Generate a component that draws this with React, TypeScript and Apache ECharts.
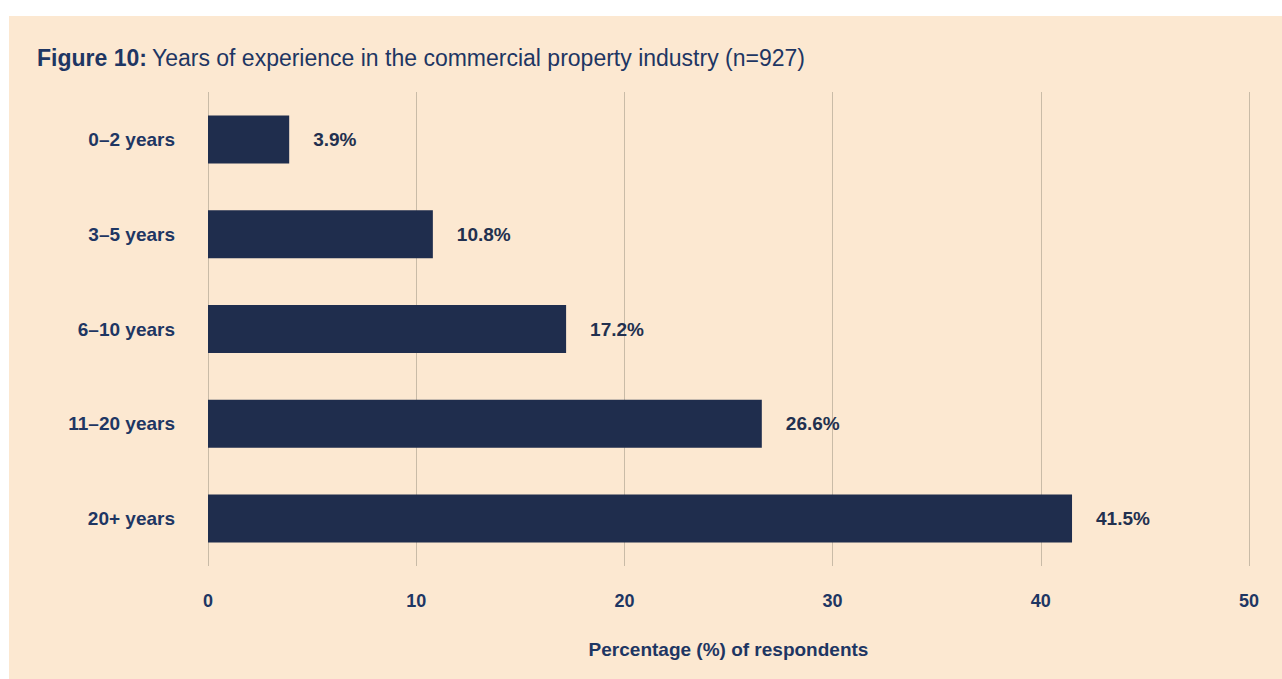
import React, { useEffect, useRef } from "react";
import * as echarts from "echarts";

const categories = ["0–2 years", "3–5 years", "6–10 years", "11–20 years", "20+ years"];
const values = [3.9, 10.8, 17.2, 26.6, 41.5];
const xTicks = [0, 10, 20, 30, 40, 50];

const FONT = '"Liberation Sans", Arial, Helvetica, sans-serif';
const NAVY = "#1F2D4D";
const LABEL = "#1E3663";

export default function App() {
  const ref = useRef<HTMLDivElement>(null);
  useEffect(() => {
    if (!ref.current) return;
    const chart = echarts.init(ref.current, null, { renderer: "svg" });
    chart.setOption({
      animation: false,
      backgroundColor: "#FFFFFF",
      textStyle: { fontFamily: FONT },
      graphic: [
        {
          type: "rect",
          z: -10,
          silent: true,
          shape: { x: 9, y: 16, width: 1273, height: 663 },
          style: { fill: "#FCE8D1" },
        },
      ],
      title: {
        left: 37,
        top: 46,
        padding: 0,
        text: "{b|Figure 10:} {n|Years of experience in the commercial property industry (n=927)}",
        textStyle: {
          rich: {
            b: { fontFamily: FONT, fontWeight: "bold", fontSize: 23, color: LABEL },
            n: { fontFamily: FONT, fontWeight: "normal", fontSize: 23, color: LABEL },
          },
        },
      },
      grid: { left: 208, right: 33, top: 92, bottom: 113, containLabel: false },
      xAxis: {
        type: "value",
        min: 0,
        max: 50,
        interval: 10,
        axisLine: { show: false },
        axisTick: { show: false },
        splitLine: { show: true, lineStyle: { color: "#C9BBA7", width: 1 } },
        axisLabel: {
          margin: 26,
          fontFamily: FONT,
          fontWeight: "bold",
          fontSize: 18,
          color: LABEL,
          formatter: (v: number) => (xTicks.includes(v) ? String(v) : ""),
        },
        name: "Percentage (%) of respondents",
        nameLocation: "middle",
        nameGap: 74,
        nameTextStyle: { fontFamily: FONT, fontWeight: "bold", fontSize: 19, color: LABEL },
      },
      yAxis: {
        type: "category",
        data: categories,
        inverse: true,
        axisLine: { show: false },
        axisTick: { show: false },
        splitLine: { show: false },
        axisLabel: {
          margin: 33,
          fontFamily: FONT,
          fontWeight: "bold",
          fontSize: 19,
          color: LABEL,
        },
      },
      series: [
        {
          type: "bar",
          data: values,
          barWidth: 48,
          itemStyle: { color: NAVY },
          label: {
            show: true,
            position: "right",
            distance: 24,
            formatter: (p: any) => p.value.toFixed(1) + "%",
            fontFamily: FONT,
            fontWeight: "bold",
            fontSize: 19,
            color: "#22304F",
          },
        },
      ],
    });
    return () => chart.dispose();
  }, []);
  return (
    <div
      ref={ref}
      style={{ position: "absolute", left: 0, top: 0, width: 1282, height: 679 }}
    />
  );
}
